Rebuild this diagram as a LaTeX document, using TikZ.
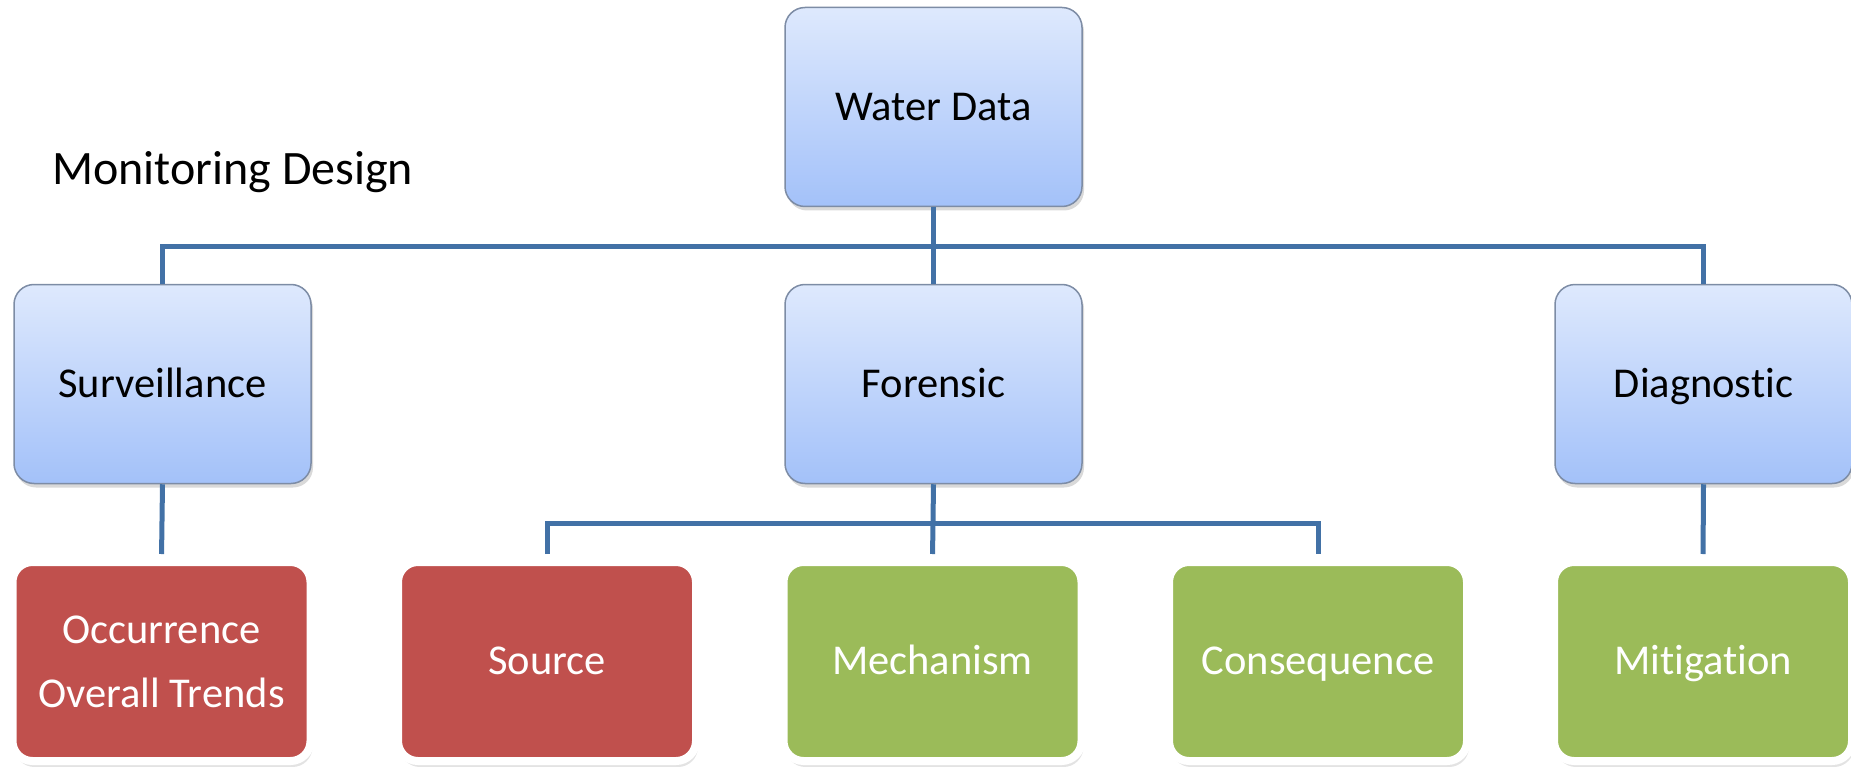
\documentclass[tikz,border=0pt]{standalone}
\usepackage{fontspec}
\setmainfont{Carlito}[Ligatures={NoCommon,NoRare,NoContextual}]
\usetikzlibrary{shadows}
\definecolor{linec}{RGB}{66,113,166}
\definecolor{blueT}{RGB}{222,233,253}
\definecolor{blueB}{RGB}{163,193,249}
\definecolor{redc}{RGB}{192,80,77}
\definecolor{greenc}{RGB}{155,187,89}
\definecolor{bord}{RGB}{125,140,165}
\begin{document}
\begin{tikzpicture}[x=1pt,y=1pt,
  bluebox/.style={rectangle, rounded corners=20pt, draw=bord, line width=1.5pt,
    top color=blueT, bottom color=blueB, minimum width=297pt, minimum height=199pt,
    inner sep=0pt, font=\fontsize{42.5}{50}\selectfont, text height=26.5pt, text depth=0pt,
    drop shadow={shadow xshift=2pt, shadow yshift=-4pt, opacity=0.3}},
  colbox/.style={rectangle, rounded corners=20pt, draw=white, line width=8pt,
    minimum width=298pt, minimum height=199pt, inner sep=0pt, text=white, align=center,
    font=\fontsize{42.5}{64}\selectfont,
    drop shadow={shadow xshift=2pt, shadow yshift=-6pt, opacity=0.22}},
  oneline/.style={text height=26.5pt, text depth=0pt},
  redbox/.style={colbox, fill=redc},
  greenbox/.style={colbox, fill=greenc},
  conn/.style={draw=linec, line width=5pt},
  title/.style={anchor=base west, inner sep=0pt, font=\fontsize{48}{58}\selectfont}]
\useasboundingbox (0,0) rectangle (1851,-767);

\node[title] (md) at (52,-185) {Monitoring Design};

\node[bluebox] (wd) at (933.5,-107) {Water Data};
\node[bluebox] (surv) at (162.5,-384) {Surveillance};
\node[bluebox] (for) at (933.5,-384) {Forensic};
\node[bluebox] (diag) at (1703.5,-384) {Diagnostic};

\node[redbox] (occ) at (161.5,-661.5) {Occurrence\\Overall Trends};
\node[redbox, oneline] (src) at (547,-661.5) {Source};
\node[greenbox, oneline] (mech) at (932.5,-661.5) {Mechanism};
\node[greenbox, oneline] (cons) at (1318,-661.5) {Consequence};
\node[greenbox, oneline] (mit) at (1703,-661.5) {Mitigation};

\coordinate (bus) at (933.5,-247);
\coordinate (fbus) at (933.5,-523);

\draw[conn] (wd.south) -- (for.north);
\draw[conn] (surv.north) |- (bus) -| (diag.north);
\draw[conn, shorten >=4pt] (surv.south) -- (occ.north);
\draw[conn, shorten >=4pt] (diag.south) -- (mit.north);
\draw[conn, shorten >=4pt] (for.south) -- (mech.north);
\draw[conn, shorten >=4pt, shorten <=4pt] (src.north) |- (fbus) -| (cons.north);
\end{tikzpicture}
\end{document}
